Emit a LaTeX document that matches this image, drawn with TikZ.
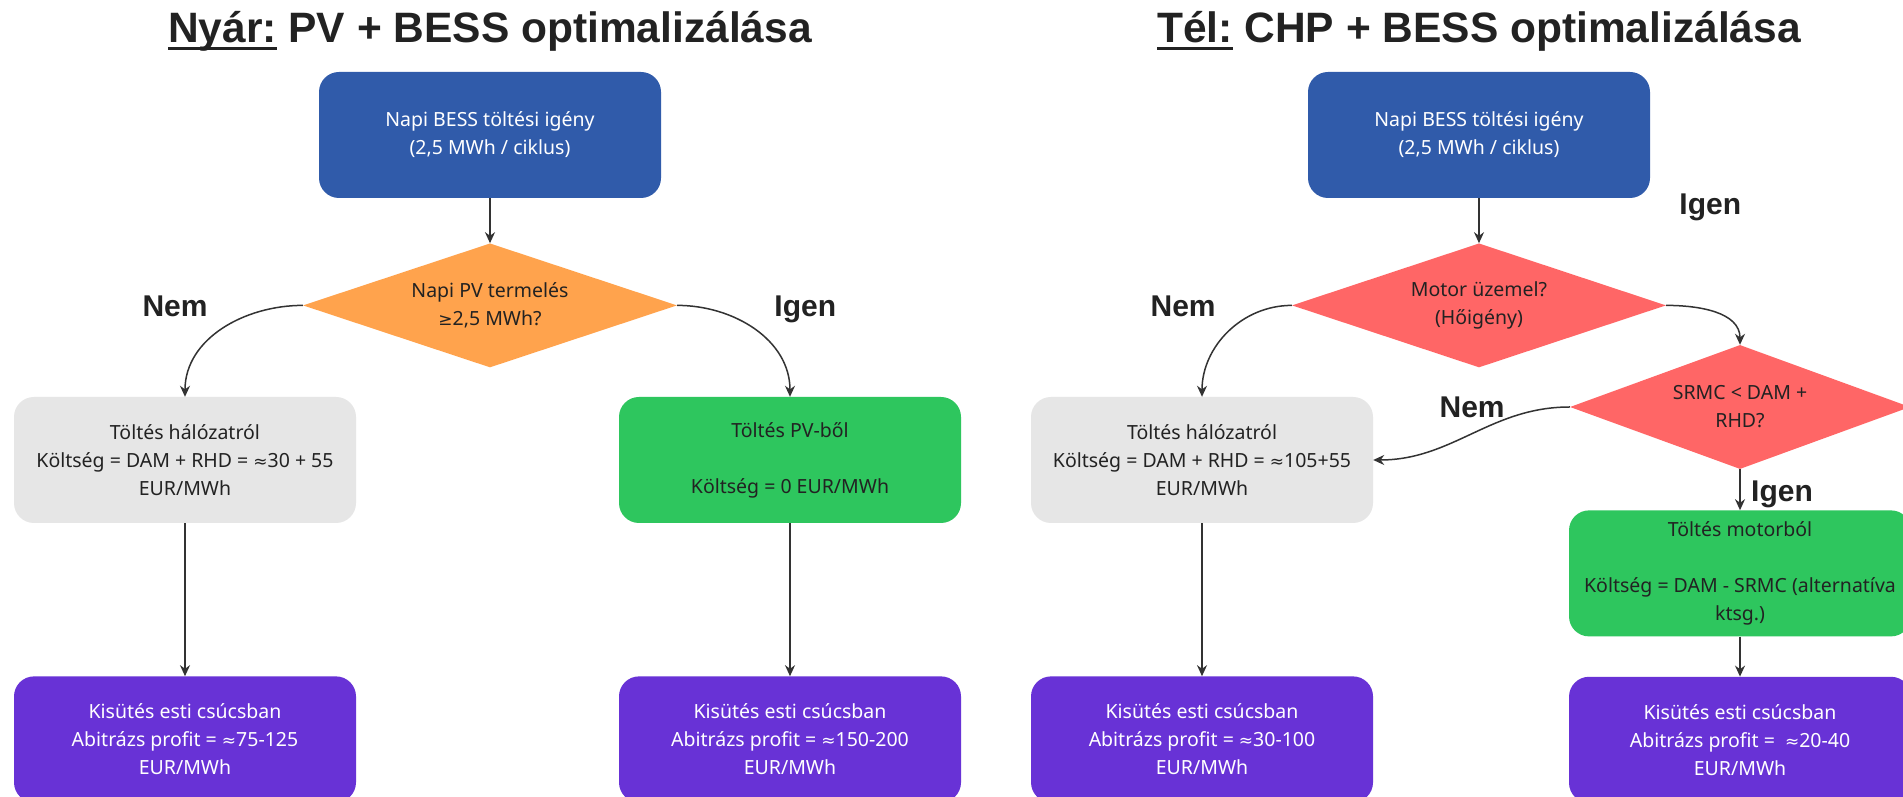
\documentclass[tikz,border=0pt]{standalone}
\usepackage{fontspec}
\setmainfont{Noto Sans}
\newfontfamily\headfont{Liberation Sans}
\newfontfamily\symfont{DejaVu Sans}
\usetikzlibrary{positioning}
\usetikzlibrary{shapes.geometric}
\usetikzlibrary{arrows.meta}
\definecolor{bessblue}{RGB}{48,91,170}
\definecolor{pvorange}{RGB}{255,163,77}
\definecolor{chpred}{RGB}{255,102,102}
\definecolor{gridgray}{RGB}{230,230,230}
\definecolor{chargegreen}{RGB}{46,198,94}
\definecolor{peakpurple}{RGB}{104,50,214}
\definecolor{linegray}{RGB}{51,51,51}
\definecolor{inkgray}{RGB}{34,34,34}
\newcommand{\aprx}{{\symfont\fontsize{17}{28}\selectfont ≈}}
\newcommand{\atleast}{{\symfont\fontsize{17}{28}\selectfont ≥}}
\newcommand{\titleline}[1]{\setbox0\hbox{#1}\rlap{\rule[-7pt]{\wd0}{3pt}}\box0}

\begin{document}
\begin{tikzpicture}[x=1pt, y=1pt, ->, >={Stealth[length=11pt,width=10pt]}, every edge/.append style={draw=linegray, line width=1.5pt}, font=\fontsize{19.5}{28}\selectfont]
    \tikzstyle{box}=[rectangle, rounded corners=20pt, minimum width=342pt, minimum height=126pt, inner sep=0pt, align=center, text=inkgray]
    \tikzstyle{demand}=[box, fill=bessblue, text=white]
    \tikzstyle{gridbox}=[box, fill=gridgray]
    \tikzstyle{chargebox}=[box, fill=chargegreen]
    \tikzstyle{peakbox}=[box, fill=peakpurple, text=white]
    \tikzstyle{decision}=[diamond, shape aspect=3, minimum width=374pt, minimum height=124pt, inner sep=0pt, align=center, text=inkgray]
    \tikzstyle{title}=[font=\headfont\bfseries\fontsize{42.5}{42.5}\selectfont, text=inkgray, inner sep=0pt, text depth=0pt]
    \tikzstyle{answer}=[font=\headfont\bfseries\fontsize{30}{30}\selectfont, text=inkgray, inner sep=0pt, text height=21.5pt, text depth=0pt]

    \fill[white] (0,0) rectangle (1903,797);
    \useasboundingbox (0,0) rectangle (1903,797);

    % Nyar
    \node[demand] (bessN) at (490,662) {Napi BESS töltési igény\\(2,5 MWh / ciklus)};
    \node[title, above=29pt of bessN] {\titleline{Nyár:}\ PV + BESS optimalizálása};
    \node[decision, fill=pvorange, below=45pt of bessN] (pvQ) {Napi PV termelés\\\atleast2,5 MWh?};
    \node[gridbox] (gridN) at (185,337) {Töltés hálózatról\\Költség = DAM + RHD = \aprx30 + 55\\EUR/MWh};
    \node[chargebox] (pvN) at (790,337) {Töltés PV-ből\\[28pt]Költség = 0 EUR/MWh};
    \node[peakbox, below=153pt of gridN] (disL) {Kisütés esti csúcsban\\Abitrázs profit = \aprx75-125\\EUR/MWh};
    \node[peakbox, below=153pt of pvN] (disM) {Kisütés esti csúcsban\\Abitrázs profit = \aprx150-200\\EUR/MWh};

    \path (bessN) edge (pvQ);
    \path (pvQ.west) edge[out=180, in=90] (gridN.north);
    \path (pvQ.east) edge[out=0, in=90] (pvN.north);
    \path (gridN) edge (disL);
    \path (pvN) edge (disM);

    \node[answer, left=95pt of pvQ.west] {Nem};
    \node[answer, right=97pt of pvQ.east] {Igen};

    % Tel
    \node[demand] (bessT) at (1479,662) {Napi BESS töltési igény\\(2,5 MWh / ciklus)};
    \node[title, above=29pt of bessT] {\titleline{Tél:}\ CHP + BESS optimalizálása};
    \node[decision, fill=chpred, below=45pt of bessT] (motQ) {Motor üzemel?\\(Hőigény)};
    \node[decision, fill=chpred, minimum width=340pt] (srmcQ) at (1740,390) {SRMC < DAM +\\RHD?};
    \node[gridbox] (gridT) at (1202,337) {Töltés hálózatról\\Költség = DAM + RHD = \aprx105+55\\EUR/MWh};
    \node[chargebox, below=41pt of srmcQ] (motN) {Töltés motorból\\[28pt]Költség = DAM - SRMC (alternatíva\\ktsg.)};
    \node[peakbox, below=153pt of gridT] (disR) {Kisütés esti csúcsban\\Abitrázs profit = \aprx30-100\\EUR/MWh};
    \node[peakbox, below=40pt of motN] (disS) {Kisütés esti csúcsban\\Abitrázs profit = \ \aprx20-40\\EUR/MWh};

    \path (bessT) edge (motQ);
    \path (motQ.west) edge[out=180, in=90] (gridT.north);
    \path (motQ.east) edge[out=0, in=90] (srmcQ.north);
    \path (srmcQ.west) edge[out=180, in=0] (gridT.east);
    \path (srmcQ) edge (motN);
    \path (motN) edge (disS);
    \path (gridT) edge (disR);

    \node[answer, left=76pt of motQ.west] {Nem};
    \node[answer, below right=-5pt and 29pt of bessT.south east] {Igen};
    \node[answer, left=65pt of srmcQ.west] {Nem};
    \node[answer, below right=11pt and 11pt of srmcQ.south] {Igen};
\end{tikzpicture}
\end{document}
